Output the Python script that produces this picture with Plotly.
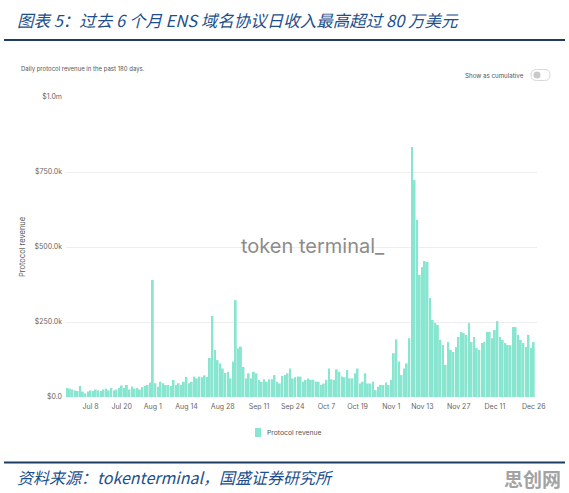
import plotly.graph_objects as go
import pandas as pd

# ---- data (daily protocol revenue, USD thousands) ----
rev_a = [30, 28, 25, 22, 20, 37, 18, 12, 18, 22, 20, 25, 22, 20, 25, 28, 22, 30, 22, 25,
         30, 38, 30, 40, 25, 35, 28, 30, 25, 33, 37, 40, 48]
rev_b = [390]
rev_c = [46, 34, 51, 46, 40, 40, 37, 57, 40, 46, 40, 51, 67]
rev_d = [46, 51, 68, 62, 68, 66, 72, 67]
rev_e = [130, 270, 157, 123, 112, 95, 80]
rev_f = [84, 62, 118, 323, 162, 168, 100]
rev_g = [62, 79, 62, 84, 79, 57, 51, 59, 51, 59, 59, 73, 51, 45, 70, 73, 79, 95, 62,
         66, 68, 68, 51, 57, 62, 57, 57, 51, 51, 40, 45, 57, 95, 59, 57, 92, 84, 68, 66,
         90, 62, 62, 79, 95, 45, 51, 79, 45, 45, 51, 23, 34, 40, 40, 48, 40, 57]
rev_h = [146, 192, 118, 73, 95, 112, 196, 833]
rev_i = [723, 590, 407, 433, 453, 450, 330, 257, 247, 240, 190, 173, 107, 183, 157, 150,
         167, 200, 217, 213, 207, 247, 183, 200, 163, 157, 180, 183, 217, 217, 196, 223,
         253, 200, 190, 180, 173, 173, 233, 233, 207, 190, 180, 167, 207, 163, 183]
revenue_k = rev_a + rev_b + rev_c + rev_d + rev_e + rev_f + rev_g + rev_h + rev_i
revenue = [v * 1000 for v in revenue_k]
dates = pd.date_range(end="2022-12-26", periods=len(revenue), freq="D")

x_tick_dates = ["2022-07-08", "2022-07-20", "2022-08-01", "2022-08-14", "2022-08-28",
                "2022-09-11", "2022-09-24", "2022-10-07", "2022-10-19", "2022-11-01",
                "2022-11-13", "2022-11-27", "2022-12-11", "2022-12-26"]
x_tick_text = ["Jul 8", "Jul 20", "Aug 1", "Aug 14", "Aug 28", "Sep 11", "Sep 24",
               "Oct 7", "Oct 19", "Nov 1", "Nov 13", "Nov 27", "Dec 11", "Dec 26"]
y_tick_vals = [0, 250000, 500000, 750000, 1000000]
y_tick_text = ["$0.0", "$250.0k", "$500.0k", "$750.0k", "$1.0m"]

title_text = "图表 5：过去 6 个月 ENS 域名协议日收入最高超过 80 万美元"
source_text = "资料来源：tokenterminal，国盛证券研究所"
subtitle_text = "Daily protocol revenue in the past 180 days."
series_name = "Protocol revenue"

# ---- layout geometry (pixels) ----
W, H = 569, 493
L, R, T, B = 66, 537, 97, 397


def px(x):
    return (x - L) / (R - L)


def py(y):
    return (B - y) / (B - T)


BAR = "#88e5cf"
BLUE = "#1d4f8c"
DARK = "#1b3d63"
FONT = "Inter, Roboto, sans-serif"
CJK = "Noto Sans CJK SC"

fig = go.Figure()
fig.add_trace(go.Bar(x=dates, y=revenue, marker=dict(color=BAR, line=dict(width=0)),
                     name=series_name, showlegend=False))

shapes = []
# header and footer rules
shapes.append(dict(type="line", xref="paper", yref="paper", x0=px(4), x1=px(565),
                   y0=py(40), y1=py(40), line=dict(color=DARK, width=2.2)))
shapes.append(dict(type="line", xref="paper", yref="paper", x0=px(4), x1=px(565),
                   y0=py(462.5), y1=py(462.5), line=dict(color=DARK, width=1.8)))
# legend swatch
shapes.append(dict(type="rect", xref="paper", yref="paper", x0=px(255), x1=px(261),
                   y0=py(437), y1=py(428), line=dict(width=0), fillcolor=BAR))


# toggle switch (rounded rect) + knob
def rrect(x0, y0, x1, y1, r):
    pts = [("M", x0 + r, y0), ("L", x1 - r, y0), ("Q", x1, y0, x1, y0 + r),
           ("L", x1, y1 - r), ("Q", x1, y1, x1 - r, y1), ("L", x0 + r, y1),
           ("Q", x0, y1, x0, y1 - r), ("L", x0, y0 + r), ("Q", x0, y0, x0 + r, y0)]
    s = ""
    for p in pts:
        if p[0] == "Q":
            s += f"Q{px(p[1])},{py(p[2])} {px(p[3])},{py(p[4])} "
        else:
            s += f"{p[0]}{px(p[1])},{py(p[2])} "
    return s + "Z"


shapes.append(dict(type="path", xref="paper", yref="paper",
                   path=rrect(531, 69.5, 550, 80.5, 5.5),
                   line=dict(color="#d8d8d8", width=1), fillcolor="white"))
shapes.append(dict(type="circle", xref="paper", yref="paper", x0=px(533.5), x1=px(540.5),
                   y0=py(78.5), y1=py(71.5), line=dict(width=0), fillcolor="#c9c9c9"))

ann = []
ann.append(dict(text=title_text, x=px(15), y=py(20), xref="paper", yref="paper",
                xanchor="left", yanchor="middle", showarrow=False,
                font=dict(family=CJK, size=16.5, color=BLUE, style="italic")))
ann.append(dict(text=source_text, x=px(15), y=py(477), xref="paper", yref="paper",
                xanchor="left", yanchor="middle", showarrow=False,
                font=dict(family=CJK, size=16, color=BLUE, style="italic")))
ann.append(dict(text="<b>思创网</b>", x=px(563), y=py(478), xref="paper", yref="paper",
                xanchor="right", yanchor="middle", showarrow=False,
                font=dict(family=CJK, size=19, color="#a3a3a3")))
ann.append(dict(text=subtitle_text, x=px(19), y=py(69), xref="paper", yref="paper",
                xanchor="left", yanchor="middle", showarrow=False,
                font=dict(family=FONT, size=6, color="#555555")))
ann.append(dict(text="Show as cumulative", x=px(526), y=py(75.5), xref="paper", yref="paper",
                xanchor="right", yanchor="middle", showarrow=False,
                font=dict(family=FONT, size=6.2, color="#555555")))
ann.append(dict(text=series_name, x=px(22), y=py(247), xref="paper", yref="paper",
                xanchor="center", yanchor="middle", showarrow=False, textangle=-90,
                font=dict(family=FONT, size=7.5, color="#555555")))
ann.append(dict(text=series_name, x=px(265), y=py(432.5), xref="paper", yref="paper",
                xanchor="left", yanchor="middle", showarrow=False,
                font=dict(family=FONT, size=6.8, color="#555555")))
ann.append(dict(text="token terminal_", x=px(313), y=py(246), xref="paper", yref="paper",
                xanchor="center", yanchor="middle", showarrow=False,
                font=dict(family=FONT, size=20, color="#8c8c8c")))

fig.update_layout(
    width=W, height=H,
    margin=dict(l=L, r=W - R, t=T, b=H - B, pad=0),
    paper_bgcolor="white", plot_bgcolor="white",
    bargap=0.28,
    showlegend=False,
    shapes=shapes, annotations=ann,
    font=dict(family=FONT, size=7, color="#666666"),
    xaxis=dict(type="date", range=["2022-06-28 12:00", "2022-12-27 06:00"],
               tickvals=x_tick_dates, ticktext=x_tick_text, showgrid=False,
               zeroline=False, showline=False, ticks="outside", ticklen=3,
               tickcolor="rgba(0,0,0,0)", tickangle=0,
               tickfont=dict(size=7, color="#666666")),
    yaxis=dict(range=[0, 1000000], tickvals=y_tick_vals, ticktext=y_tick_text,
               showgrid=True, gridcolor="#eeeeee", gridwidth=1, zeroline=False,
               showline=False, ticks="", ticklabelstandoff=3,
               tickfont=dict(size=7, color="#666666")),
)

fig.write_html("out.html")
